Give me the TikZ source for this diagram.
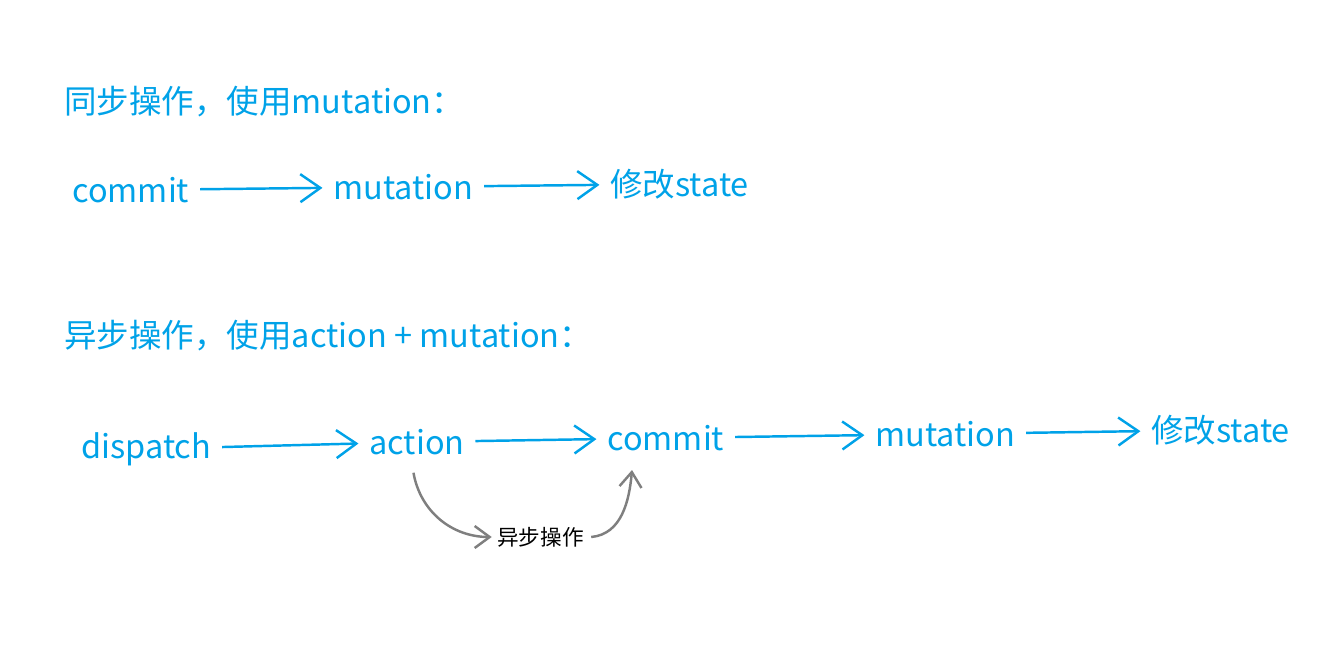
\documentclass[tikz,border=0pt]{standalone}
\usepackage{fontspec}
\setmainfont{Noto Sans CJK SC}
\usetikzlibrary{arrows.meta}
\definecolor{paintblue}{HTML}{00A2E8}
\definecolor{pengrey}{HTML}{7F7F7F}
\newcommand{\bigtext}{\fontsize{18.5}{22}\selectfont}
\newcommand{\smalltext}{\fontsize{12.3}{15}\selectfont}
\tikzset{
 every node/.append style={font=\bigtext,text=paintblue,inner sep=0pt},
 word/.style={anchor=west},
 title/.style={anchor=west},
 note/.style={font=\smalltext,text=black,inner sep=0pt},
 flow/.style={-{Straight Barb[length=4mm,width=5.6mm]},draw=paintblue,line width=1.4pt,shorten <=6pt,shorten >=6pt},
 curvearrow/.style={-{Straight Barb[length=3mm,width=4.4mm]},draw=pengrey,line width=1.4pt},
}

\begin{document}
\begin{tikzpicture}[x=0.02cm,y=-0.02cm]
\useasboundingbox (0,0) rectangle (1343,656);

% synchronous: commit -> mutation -> state
\node[title] (synctitle) at (64,102) {同步操作，使用mutation：};
\node[word] (commitA) at (72,190) {commit};
\node[word] (mutA) at (333,187) {mutation};
\node[word] (stateA) at (610,184) {修改state};
\draw[flow] (commitA) -- (mutA);
\draw[flow] (mutA) -- (stateA);

% asynchronous: dispatch -> action -> commit -> mutation -> state
\node[title] (asynctitle) at (64,336) {异步操作，使用action + mutation：};
\node[word] (dispatch) at (81,449) {dispatch};
\node[word] (action) at (369,442) {action};
\node[word] (commitB) at (607,438) {commit};
\node[word] (mutB) at (875,434) {mutation};
\node[word] (stateB) at (1151,430) {修改state};
\draw[flow] (dispatch) -- (action);
\draw[flow] (action) -- (commitB);
\draw[flow] (commitB) -- (mutB);
\draw[flow] (mutB) -- (stateB);

% the async step between action and commit
\node[note,anchor=west] (async) at (497,537) {异步操作};
\coordinate (back) at (632,470);
\draw[curvearrow] ([xshift=-2pt,yshift=-10pt]action.south) to[out=-80,in=180] ([xshift=-3pt]async.west);
\draw[curvearrow] ([xshift=4pt]async.east) to[out=5,in=-95] (back);

\end{tikzpicture}
\end{document}
